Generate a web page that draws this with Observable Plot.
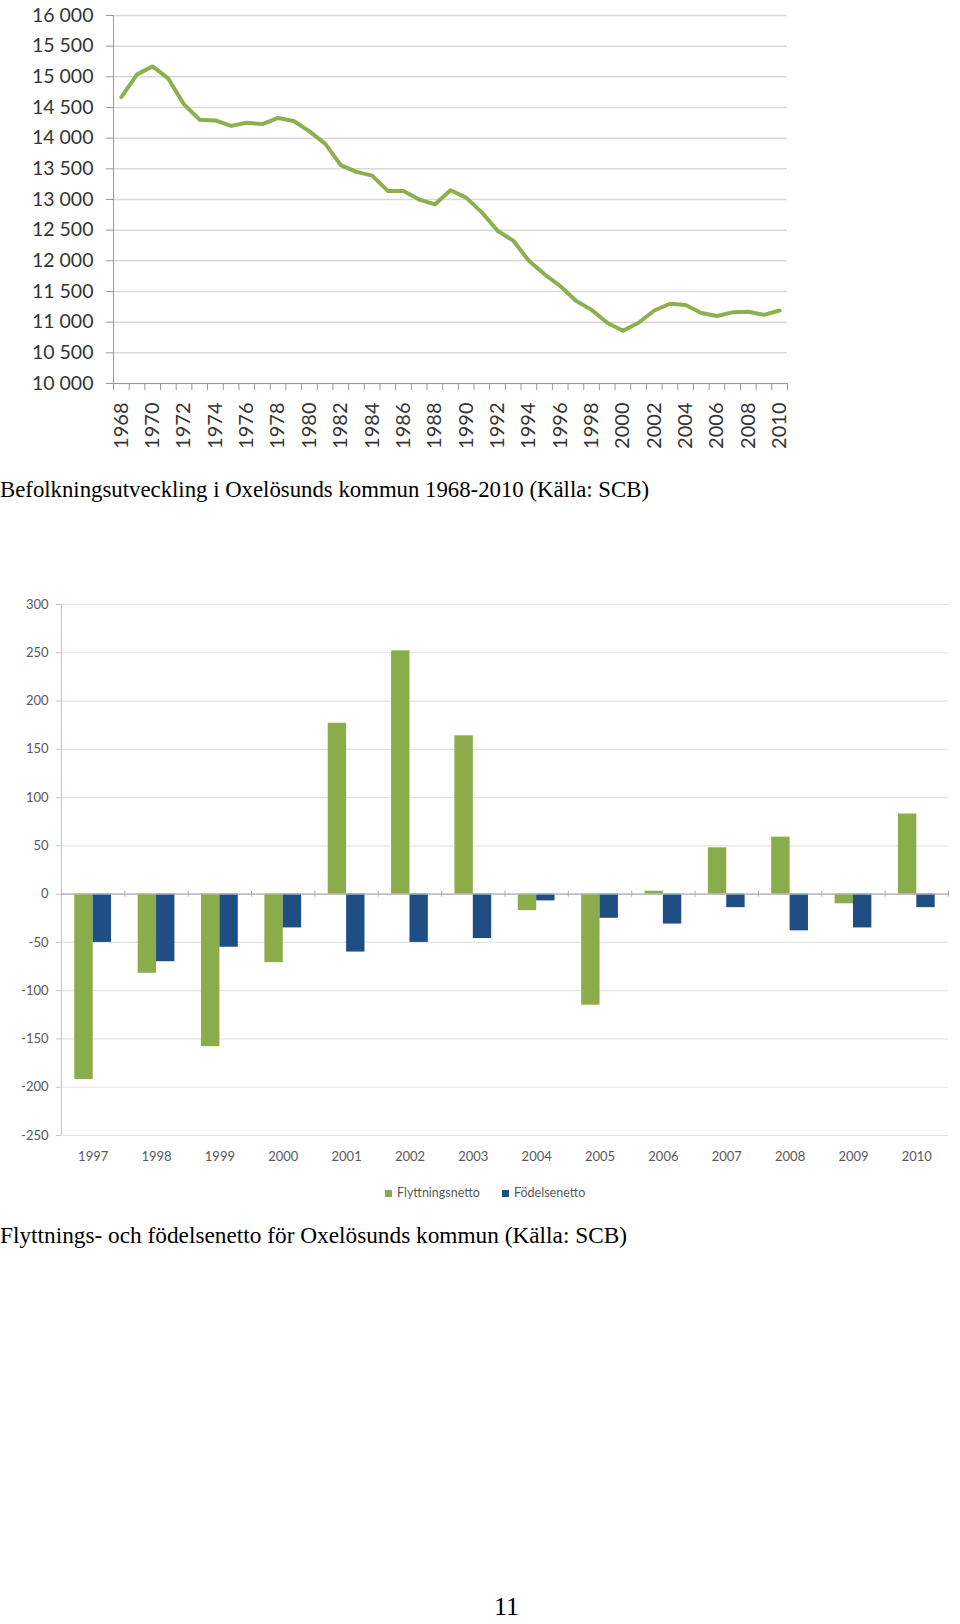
<!DOCTYPE html>
<html>
<head>
<meta charset="utf-8">
<script src="https://cdn.jsdelivr.net/npm/d3@7"></script>
<script src="https://cdn.jsdelivr.net/npm/@observablehq/plot@0.6"></script>
<style>
  body { margin: 0; background: #fff; width: 960px; height: 1624px; position: relative; overflow: hidden; }
  .abs { position: absolute; }
  .cap { font-family: "Liberation Serif", "DejaVu Serif", serif; font-size: 23px; line-height: 23px; color: #000; white-space: nowrap; transform-origin: 0 0; }
  .leg { font-family: Lato, "Open Sans", sans-serif; font-size: 12.5px; line-height: 14px; color: #595959; white-space: nowrap; display: flex; align-items: center; }
  .sw { display: inline-block; width: 7px; height: 7px; margin-right: 5px; }
  .pg { font-family: "Liberation Serif", serif; font-size: 26px; line-height: 26px; color: #000; }
</style>
</head>
<body>
<div id="c1" class="abs" style="left:0;top:0"></div>
<div id="cap1" class="abs cap" style="left:0;top:478px" data-w="649">Befolkningsutveckling i Oxelösunds kommun 1968-2010 (Källa: SCB)</div>
<div id="c2" class="abs" style="left:0;top:580px"></div>
<div id="legend"></div>
<div id="cap2" class="abs cap" style="left:0;top:1224px" data-w="627">Flyttnings- och födelsenetto för Oxelösunds kommun (Källa: SCB)</div>
<div class="abs pg" style="left:494px;top:1594px">11</div>
<script>
// ---------- Chart 1 data: population 1968-2010 ----------
const popYears = [1968,1969,1970,1971,1972,1973,1974,1975,1976,1977,1978,1979,1980,1981,1982,1983,1984,1985,1986,1987,1988,1989,1990,1991,1992,1993,1994,1995,1996,1997,1998,1999,2000,2001,2002,2003,2004,2005,2006,2007,2008,2009,2010];
const population = [14670,15040,15170,14970,14550,14300,14290,14200,14250,14230,14330,14280,14110,13910,13560,13450,13390,13140,13140,13000,12920,13150,13030,12790,12490,12330,12000,11780,11590,11350,11200,10990,10860,10990,11190,11300,11280,11150,11100,11160,11170,11120,11190];
const popYearLabels = [1968,1970,1972,1974,1976,1978,1980,1982,1984,1986,1988,1990,1992,1994,1996,1998,2000,2002,2004,2006,2008,2010];
const popTicks = [10000,10500,11000,11500,12000,12500,13000,13500,14000,14500,15000,15500,16000];

// ---------- Chart 2 data: net migration / natural increase ----------
const balYears = [1997,1998,1999,2000,2001,2002,2003,2004,2005,2006,2007,2008,2009,2010];
const flyttningsnetto = [-192,-82,-158,-71,177,252,164,-17,-115,3,48,59,-10,83];
const fodelsenetto = [-50,-70,-55,-35,-60,-50,-46,-7,-25,-31,-14,-38,-35,-14];
const balTicks = [-250,-200,-150,-100,-50,0,50,100,150,200,250,300];
const seriesNames = ["Flyttningsnetto","Födelsenetto"];
const seriesColors = ["#8aac4b","#1f4e85"];

// ---------- Chart 1 ----------
const pop = popYears.map((y, i) => ({year: y, value: population[i]}));
const bounds1 = d3.range(popYears[0] - 0.5, popYears[popYears.length - 1] + 1, 1);
const fmtSpace = d => d3.format(",")(d).replace(",", " ");

const chart1 = Plot.plot({
  width: 800, height: 460,
  marginLeft: 113, marginRight: 13, marginTop: 15, marginBottom: 77,
  x: {type: "linear", domain: [bounds1[0], bounds1[bounds1.length - 1]]},
  y: {domain: [popTicks[0], popTicks[popTicks.length - 1]]},
  style: {fontFamily: "Lato, 'Open Sans', sans-serif", fontSize: "19.5px", background: "white", overflow: "visible"},
  marks: [
    Plot.gridY({ticks: popTicks, stroke: "#d9d9d9", strokeOpacity: 1, strokeWidth: 1.5}),
    Plot.axisY({ticks: popTicks, tickSize: 7, tickPadding: 13, tickFormat: fmtSpace, stroke: "#9a9a9a", fill: "#333", label: null}),
    Plot.ruleX([bounds1[0]], {stroke: "#9a9a9a"}),
    Plot.ruleY([popTicks[0]], {stroke: "#9a9a9a"}),
    Plot.axisX({ticks: bounds1, tickSize: 7, tickFormat: () => "", stroke: "#9a9a9a", label: null}),
    Plot.axisX({ticks: popYearLabels, tickSize: 0, tickPadding: 19, tickRotate: -90, tickFormat: d => String(d), fill: "#333", fontSize: 20, label: null}),
    Plot.line(pop, {x: "year", y: "value", stroke: "#8db04e", strokeWidth: 4, strokeLinejoin: "round"})
  ]
});
document.getElementById("c1").appendChild(chart1);

// ---------- Chart 2 ----------
const bal = balYears.map((y, i) => ({year: y, flytt: flyttningsnetto[i], fodel: fodelsenetto[i]}));
const bounds2 = d3.range(balYears[0] - 0.5, balYears[balYears.length - 1] + 1, 1);
const barW = 0.29;

const chart2 = Plot.plot({
  width: 960, height: 600,
  marginLeft: 61, marginRight: 12, marginTop: 24, marginBottom: 45,
  x: {type: "linear", domain: [bounds2[0], bounds2[bounds2.length - 1]]},
  y: {domain: [balTicks[0], balTicks[balTicks.length - 1]]},
  style: {fontFamily: "Lato, 'Open Sans', sans-serif", fontSize: "13px", background: "white", overflow: "visible"},
  marks: [
    Plot.gridY({ticks: balTicks, stroke: "#e4e4e4", strokeOpacity: 1, strokeWidth: 1.2}),
    Plot.axisY({ticks: balTicks, tickSize: 5, tickPadding: 8, tickFormat: d => String(d), stroke: "#c4c4c4", fill: "#595959", label: null}),
    Plot.ruleX([bounds2[0]], {stroke: "#c4c4c4"}),
    Plot.rectY(bal, {x1: d => d.year - barW, x2: d => d.year, y: "flytt", fill: seriesColors[0]}),
    Plot.rectY(bal, {x1: d => d.year, x2: d => d.year + barW, y: "fodel", fill: seriesColors[1]}),
    Plot.ruleY([0], {stroke: "#b0b0b0", strokeWidth: 1.2}),
    Plot.ruleX(bounds2, {y1: 0, y2: 0, insetTop: -3, insetBottom: -3, stroke: "#b0b0b0"}),
    Plot.axisX({ticks: balYears, tickSize: 0, tickPadding: 16, tickFormat: d => String(d), fill: "#595959", label: null})
  ]
});
document.getElementById("c2").appendChild(chart2);

// ---------- Legend for chart 2 ----------
const legendLeft = [385, 502];
const legend = document.getElementById("legend");
seriesNames.forEach((name, i) => {
  const item = document.createElement("div");
  item.className = "abs leg";
  item.style.left = legendLeft[i] + "px";
  item.style.top = "1186px";
  const sw = document.createElement("span");
  sw.className = "sw";
  sw.style.background = seriesColors[i];
  item.appendChild(sw);
  item.appendChild(document.createTextNode(name));
  legend.appendChild(item);
});

// ---------- fit captions to the reference widths ----------
for (const id of ["cap1", "cap2"]) {
  const el = document.getElementById(id);
  const w = el.getBoundingClientRect().width;
  const target = +el.dataset.w;
  el.style.transform = `scaleX(${target / w})`;
}
</script>
</body>
</html>
